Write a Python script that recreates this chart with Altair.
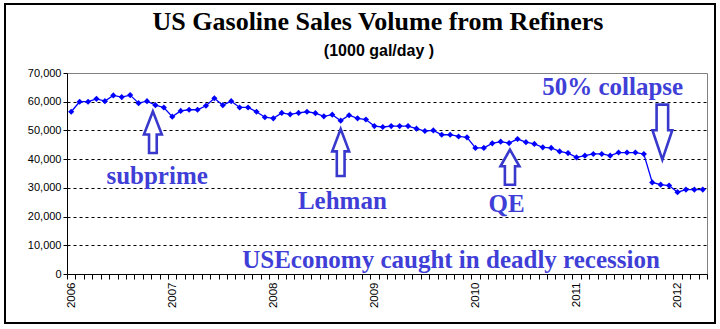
import altair as alt
import pandas as pd

# Monthly gasoline sales volume from refiners, thousand gal/day, Jan 2006 .. Apr 2012
values = [
    56.5, 60.0, 60.0, 61.0, 60.2, 62.2, 61.6, 62.3, 59.5, 60.2, 58.8, 58.0,
    54.8, 56.8, 57.2, 57.2, 58.6, 61.2, 58.8, 60.2, 58.0, 58.0, 56.5, 54.6,
    54.2, 56.1, 55.6, 56.1, 56.5, 56.0, 54.9, 55.5, 53.4, 55.3, 54.2, 53.8,
    51.5, 51.2, 51.5, 51.5, 51.5, 50.6, 49.8, 50.0, 48.5, 48.5, 47.9, 47.6,
    43.9, 43.9, 45.5, 46.1, 45.6, 47.0, 45.9, 45.3, 44.1, 43.9, 42.7, 42.1,
    40.6, 41.2, 41.8, 41.8, 41.2, 42.3, 42.3, 42.3, 41.8, 31.9, 31.1, 30.8,
    28.5, 29.4, 29.4, 29.4,
]
start_year = 2006
years = list(range(2006, 2013))
y_ticks = [0, 10000, 20000, 30000, 40000, 50000, 60000, 70000]

# annotations (x in month index, y in gal/day units)
ann_text = ["subprime", "Lehman", "QE", "50% collapse",
            "USEconomy caught in deadly recession"]
ann_x = [10.2, 32.2, 51.7, 64.3, 45.1]
ann_y = [31500, 22700, 21700, 62500, 2200]

arrow_name = ["subprime", "lehman", "qe", "collapse"]
arrow_x = [9.7, 32.0, 52.1, 70.2]
arrow_y = [49400, 42300, 37200, 49400]
arrow_size = [1730, 2210, 1225, 3025]

n = len(values)
df = pd.DataFrame({"m": list(range(n)), "v": [v * 1000 for v in values]})


def up(hw, hs, hb):
    return (f"M0,-1L{hw},{hb}L{hs},{hb}L{hs},1L{-hs},1L{-hs},{hb}L{-hw},{hb}Z")


def down(hw, hs, hb):
    return (f"M0,1L{hw},{hb}L{hs},{hb}L{hs},-1L{-hs},-1L{-hs},{hb}L{-hw},{hb}Z")


arrow_paths = [up(0.43, 0.185, 0.11), up(0.36, 0.165, -0.05),
               up(0.54, 0.29, -0.05), down(0.36, 0.21, -0.07)]

xs = alt.Scale(domain=[-0.5, n - 0.5], nice=False, zero=False)
ys = alt.Scale(domain=[0, 70000], nice=False)

label_expr = (f"((datum.value + 0.5) % 12 == 0) ? "
              f"toString({start_year} + (datum.value + 0.5) / 12) : ''")

x_axis = alt.Axis(
    values=[i - 0.5 for i in range(n + 1)], labelExpr=label_expr,
    labelAngle=-90, labelOffset=4.2, tickSize=5, title=None, grid=False,
    labelFont="Liberation Sans", labelFontSize=11.5, labelColor="black",
    domainColor="black", tickColor="black", labelOverlap=False,
    labelFlush=False, labelPadding=3, domainWidth=1, labelBound=False,
)
y_axis = alt.Axis(
    values=y_ticks, format=",d", title=None, grid=True, gridDash=[3, 3],
    gridColor="black", gridWidth=1, labelOverlap=False, labelBound=False,
    gridOpacity={"condition": {"test": "datum.value >= 70000 || datum.value <= 0",
                               "value": 0}, "value": 1},
    tickSize=4, tickColor="black", domainColor="black",
    labelFont="Liberation Sans", labelFontSize=11, labelColor="black",
    labelPadding=2, labelFlush=False,
)


def X(f):
    return alt.X(f, type="quantitative", scale=xs, axis=x_axis)


def Y(f):
    return alt.Y(f, type="quantitative", scale=ys, axis=y_axis)


base = alt.Chart(df)
line = base.mark_line(color="#0000ff", strokeWidth=1.3).encode(
    x=X("m"), y=Y("v"))
pts = base.mark_point(shape="diamond", filled=True, color="#0000ff",
                      size=38, opacity=1).encode(x=X("m"), y=Y("v"))

adf = pd.DataFrame({"name": arrow_name, "m": arrow_x, "v": arrow_y,
                    "s": arrow_size})
arrows = alt.Chart(adf).mark_point(
    filled=False, stroke="#3838cc", strokeWidth=2.6, fill="white",
    fillOpacity=1, opacity=1,
).encode(
    x=X("m"), y=Y("v"),
    shape=alt.Shape("name:N", scale=alt.Scale(domain=arrow_name,
                                               range=arrow_paths),
                    legend=None),
    size=alt.Size("s:Q", scale=None),
)

tdf = pd.DataFrame({"t": ann_text, "m": ann_x, "v": ann_y})
texts = alt.Chart(tdf).mark_text(
    font="Liberation Serif", fontWeight="bold", fontSize=25,
    color="#3f3fd8", align="center", baseline="alphabetic",
).encode(x=X("m"), y=Y("v"), text="t:N")

one = pd.DataFrame({"a": [0]})
title = alt.Chart(one).mark_text(
    text="US Gasoline Sales Volume from Refiners", font="Liberation Serif",
    fontWeight="bold", fontSize=26, color="black", align="center",
    baseline="alphabetic",
).encode(x=alt.value(311), y=alt.value(-43))
subtitle = alt.Chart(one).mark_text(
    text="(1000 gal/day )", font="Liberation Sans", fontWeight="bold",
    fontSize=16, color="black", align="center", baseline="alphabetic",
).encode(x=alt.value(312), y=alt.value(-17))
frame = alt.Chart(one).mark_rect(
    fillOpacity=0, stroke="black", strokeWidth=2,
).encode(x=alt.value(-62), x2=alt.value(648), y=alt.value(-69),
         y2=alt.value(250))

chart = alt.layer(line, pts, arrows, texts, title, subtitle, frame).properties(
    width=640, height=201, autosize="none",
    padding={"left": 67, "top": 73, "right": 13, "bottom": 55},
    background="white",
).configure_view(stroke="#808080", strokeWidth=1)

chart.save("out.html", embed_options={"renderer": "svg", "actions": False})
